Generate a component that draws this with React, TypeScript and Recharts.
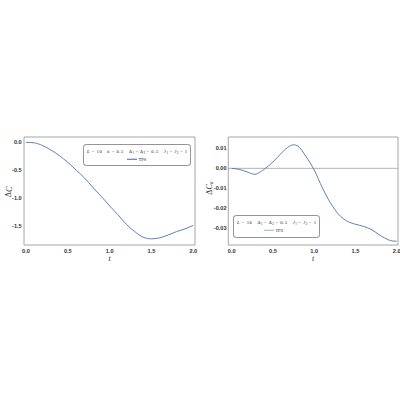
import { LineChart, Line, XAxis, YAxis, ReferenceLine, Legend, Label } from "recharts";

// time grid and Delta C (left panel)
const tLeft = [0, 0.1, 0.2, 0.3, 0.4, 0.5, 0.6, 0.7, 0.8, 0.9, 1.0, 1.1, 1.2, 1.3, 1.4, 1.5, 1.6, 1.7, 1.8, 1.9, 2.0];
const deltaC = [0, -0.01, -0.06, -0.14, -0.24, -0.36, -0.5, -0.64, -0.81, -0.97, -1.14, -1.3, -1.47, -1.6, -1.7, -1.73, -1.71, -1.66, -1.6, -1.55, -1.49];

// time grid and Delta C_a (right panel)
const tRight = [0, 0.1, 0.2, 0.28, 0.35, 0.4, 0.5, 0.6, 0.7, 0.75, 0.8, 0.9, 1.0, 1.1, 1.2, 1.3, 1.4, 1.5, 1.6, 1.7, 1.8, 1.9, 1.95, 2.0];
const deltaCa = [0, -0.0006, -0.002, -0.003, -0.0017, -0.0003, 0.0032, 0.0075, 0.0111, 0.0118, 0.0112, 0.006, -0.0008, -0.0098, -0.0175, -0.0232, -0.0265, -0.028, -0.0291, -0.0308, -0.0336, -0.0358, -0.0364, -0.0365];

const tMajor = [0, 0.5, 1, 1.5, 2];
const tMinor = [0.1, 0.2, 0.3, 0.4, 0.6, 0.7, 0.8, 0.9, 1.1, 1.2, 1.3, 1.4, 1.6, 1.7, 1.8, 1.9];
const cMajor = [-1.5, -1, -0.5, 0];
const cMinor = [-1.8, -1.7, -1.6, -1.4, -1.3, -1.2, -1.1, -0.9, -0.8, -0.7, -0.6, -0.4, -0.3, -0.2, -0.1];
const caMajor = [-0.03, -0.02, -0.01, 0, 0.01];
const caMinor = [-0.038, -0.036, -0.034, -0.032, -0.028, -0.026, -0.024, -0.022, -0.018, -0.016, -0.014, -0.012, -0.008, -0.006, -0.004, -0.002, 0.002, 0.004, 0.006, 0.008, 0.012, 0.014];

const seriesName = "TPS";

const leftRows = tLeft.map((t, i) => ({ t, v: deltaC[i] }));
const rightRows = tRight.map((t, i) => ({ t, v: deltaCa[i] }));

const FRAME = "#909090";
const BLUE = "#5E81B5";
const tickFont = { fontSize: 5.6, fill: "#333", fontWeight: "bold", fontFamily: "Liberation Sans" };
const serif = "Liberation Serif";

// inward ticks on all four sides, Mathematica-style frame
function frameAxes(xDom: number[], yDom: number[], xMaj: number[], xMin: number[], yMaj: number[], yMin: number[]) {
    const base = {
        type: "number" as const,
        allowDataOverflow: true,
        mirror: true,
        tick: false,
        interval: 0 as const,
        tickLine: { stroke: FRAME, strokeWidth: 0.6 },
    };
    const out: any[] = [];
    (["bottom", "top"] as const).forEach((o) => {
        out.push(<XAxis key={o + "M"} xAxisId={o + "M"} orientation={o} height={0.01} domain={xDom} ticks={xMaj} tickSize={3}
            axisLine={o === "top" ? { stroke: FRAME, strokeWidth: 0.8 } : false} {...base} />);
        out.push(<XAxis key={o + "m"} xAxisId={o + "m"} orientation={o} height={0.01} domain={xDom} ticks={xMin} tickSize={1.6}
            axisLine={false} {...base} />);
    });
    (["left", "right"] as const).forEach((o) => {
        out.push(<YAxis key={o + "M"} yAxisId={o + "M"} orientation={o} width={0.01} domain={yDom} ticks={yMaj} tickSize={3}
            axisLine={o === "right" ? { stroke: FRAME, strokeWidth: 0.8 } : false} {...base} />);
        out.push(<YAxis key={o + "m"} yAxisId={o + "m"} orientation={o} width={0.01} domain={yDom} ticks={yMin} tickSize={1.6}
            axisLine={false} {...base} />);
    });
    return out;
}

const xLabel = (p: any) => {
    const vb = p.viewBox;
    return (
        <text x={vb.x + vb.width / 2} y={vb.y + 15.5} textAnchor="middle" fontSize={8} fontStyle="italic" fontFamily={serif} fill="#333">t</text>
    );
};

const yLabel = (sub: string, cx: number, cy: number) => (p: any) => {
    const vb = p.viewBox;
    const x = vb.x + cx;
    const y = vb.y + vb.height / 2 + cy;
    return (
        <text x={x} y={y} transform={`rotate(-90 ${x} ${y})`} textAnchor="middle" dominantBaseline="middle"
            fontSize={8} fontFamily={serif} fill="#333">
            Δ<tspan fontStyle="italic">C</tspan>
            {sub && <tspan fontSize={5.5} dy={1.5} fontStyle="italic">{sub}</tspan>}
        </text>
    );
};

const Sub = ({ n }: { n: string }) => (
    <>
        <tspan fontSize={3.2} dy={1}>{n}</tspan>
        <tspan dy={-1}>{"\u200a"}</tspan>
    </>
);

const legendContent = (w: number, h: number, withK: boolean, textW: number, lineX: number, lineColor: string, italic: boolean) =>
    (props: any) => {
        const name = props.payload?.[0]?.value ?? seriesName;
        return (
            <svg width={w} height={h} style={{ display: "block" }}>
                <rect x={0.4} y={0.4} width={w - 0.8} height={h - 0.8} rx={3} fill="#fff" stroke="#555" strokeWidth={0.7} />
                <text x={w / 2} y={9} textAnchor="middle" fontSize={4.6} fontFamily={serif} fill="#222" textLength={textW} lengthAdjust="spacing">
                    <tspan fontStyle="italic">L</tspan> = 10{"\u2003"}
                    {withK && <><tspan fontStyle="italic">k</tspan> = 0.5{"\u2003"}</>}
                    Δ<Sub n="1" />= Δ<Sub n="2" />= 0.5{"\u2003"}
                    <tspan fontStyle="italic">J</tspan><Sub n="1" />= <tspan fontStyle="italic">J</tspan><Sub n="2" />= 1
                </text>
                <line x1={lineX} x2={lineX + 10} y1={15.3} y2={15.3} stroke={lineColor} strokeWidth={1.2} />
                <text x={lineX + 11.5} y={17} fontSize={4.6} fontFamily={serif} fontStyle={italic ? "italic" : "normal"} fill="#222">{name}</text>
            </svg>
        );
    };

const LeftPanel = () => {
    const xDom = [-0.024, 2.02];
    const yDom = [-1.84, 0.095];
    return (
        <LineChart width={200} height={400} data={leftRows} margin={{ top: 137, right: 5, bottom: 143, left: 0 }}
            style={{ position: "absolute", left: 0, top: 0 }}>
            {frameAxes(xDom, yDom, tMajor, tMinor, cMajor, cMinor)}
            <XAxis xAxisId="b" dataKey="t" type="number" domain={xDom} allowDataOverflow ticks={tMajor} interval={0}
                height={12} tickLine={false} tickSize={0} tickMargin={4} axisLine={{ stroke: FRAME, strokeWidth: 0.8 }}
                tick={tickFont} tickFormatter={(v: number) => v.toFixed(1)}>
                <Label content={xLabel} />
            </XAxis>
            <YAxis yAxisId="l" type="number" domain={yDom} allowDataOverflow ticks={cMajor} interval={0}
                width={24} tickLine={false} tickSize={0} tickMargin={2.3} axisLine={{ stroke: FRAME, strokeWidth: 0.8 }}
                tick={tickFont} tickFormatter={(v: number) => v.toFixed(1)}>
                <Label content={yLabel("", 9.5, 1)} />
            </YAxis>
            <Line xAxisId="b" yAxisId="l" dataKey="v" name={seriesName} type="monotone" stroke={BLUE} strokeWidth={1}
                dot={false} isAnimationActive={false} />
            <Legend layout="vertical" align="center" verticalAlign="middle"
                wrapperStyle={{ left: 82.7, top: 143.7, width: 108, height: 22, margin: 0 }}
                content={legendContent(108, 22, true, 100, 44, BLUE, false)} />
        </LineChart>
    );
};

const RightPanel = () => {
    const xDom = [-0.041, 2.016];
    const yDom = [-0.0384, 0.0157];
    return (
        <LineChart width={200} height={400} data={rightRows} margin={{ top: 137, right: 2, bottom: 143, left: 0.3 }}
            style={{ position: "absolute", left: 200, top: 0 }}>
            {frameAxes(xDom, yDom, tMajor, tMinor, caMajor, caMinor)}
            <XAxis xAxisId="b" dataKey="t" type="number" domain={xDom} allowDataOverflow ticks={tMajor} interval={0}
                height={12} tickLine={false} tickSize={0} tickMargin={4} axisLine={{ stroke: FRAME, strokeWidth: 0.8 }}
                tick={tickFont} tickFormatter={(v: number) => v.toFixed(1)}>
                <Label content={xLabel} />
            </XAxis>
            <YAxis yAxisId="l" type="number" domain={yDom} allowDataOverflow ticks={caMajor} interval={0}
                width={28} tickLine={false} tickSize={0} tickMargin={1.7} axisLine={{ stroke: FRAME, strokeWidth: 0.8 }}
                tick={tickFont} tickFormatter={(v: number) => v.toFixed(2)}>
                <Label content={yLabel("a", 10, -3)} />
            </YAxis>
            <ReferenceLine xAxisId="b" yAxisId="l" y={0} stroke="#a0a0a0" strokeWidth={0.8} />
            <Line xAxisId="b" yAxisId="l" dataKey="v" name={seriesName} type="monotone" stroke={BLUE} strokeWidth={1}
                dot={false} isAnimationActive={false} />
            <Legend layout="vertical" align="center" verticalAlign="middle"
                wrapperStyle={{ left: 33.3, top: 215, width: 87, height: 23, margin: 0 }}
                content={legendContent(87, 23, false, 79, 31, "#a9bde0", true)} />
        </LineChart>
    );
};

export default function App() {
    return (
        <div style={{ position: "absolute", left: 0, top: 0, width: 400, height: 400, background: "#fff" }}>
            <LeftPanel />
            <RightPanel />
        </div>
    );
}
